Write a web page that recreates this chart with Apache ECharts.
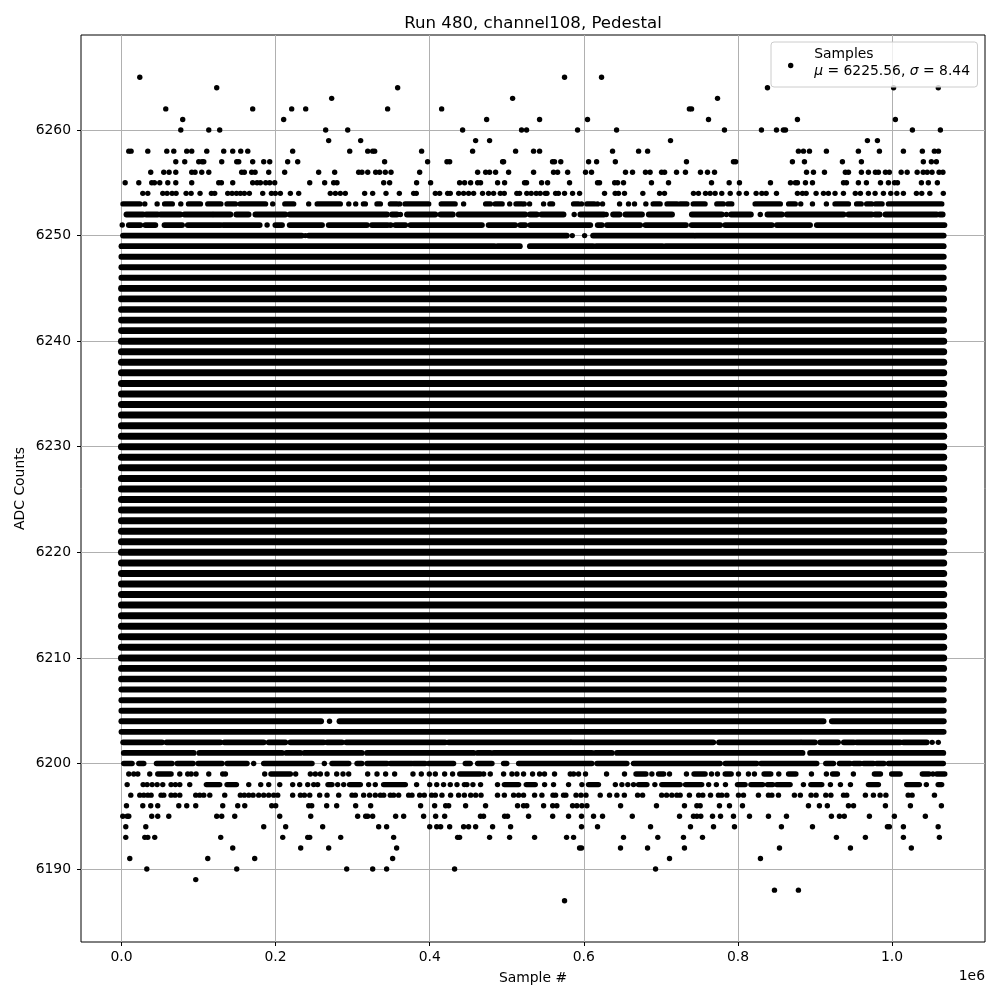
<!DOCTYPE html>
<html>
<head>
<meta charset="utf-8">
<title>Run 480, channel108, Pedestal</title>
<script src="https://cdn.jsdelivr.net/npm/echarts@6/dist/echarts.min.js"></script>
<style>
  html, body { margin: 0; padding: 0; background: #fff; }
  #chart { width: 1000px; height: 1000px; }
</style>
</head>
<body>
<div id="chart"></div>
<script>
// sample positions are in thousands of samples
// a plain number is one visible dot, a pair is a stretch of overlapping dots
const row6265 = [23.8, 575, 623];
const row6264 = [123.6, 358.4, 838.3, 1002, 1060];
const row6263 = [272.8, 507.6, 773.5];
const row6262 = [57.5, 170.3, 220.9, 239.1, 345.4, 415.5, 737, 739.8];
const row6261 = [79.5, 210.5, 473.9, 542.6, 604.8, 761.8, 877.2, 1004.3];
const row6260 = [77, 113.3, 127.5, 265, 293.6, 442.7, 519.2, 525.7, 591.9, 642.5, 782.5, 830.5, 850, 859, 861.7, 1026.4, 1062.7];
const row6259 = [268.9, 310.4, 459.6, 477.7, 712.5, 968, 981];
const row6258 = [9.5, 12.5, 34.2, 58.8, 67.9, 84.7, 91.2, 110.7, 132.7, 144.4, 154.8, 163.9, 222.2, 296.2, 319.6, 326, 328.6, 389.5, 455.7, 511.5, 534.8, 542.6, 637.3, 671.1, 682.8, 878.5, 885, 892.8, 914.8, 956.3, 983.6, 1014.7, 1039.3, 1054.9, 1060.2];
const row6257 = [70.5, 82.1, 100.3, 104.6, 106.8, 130.1, 149.6, 152.2, 170.3, 184.6, 192.4, 215.7, 228.7, 341.5, 397.3, 422.4, 425.9, 494.6, 495.9, 559.4, 562, 570.1, 606.2, 616.6, 640.9, 733.2, 794.2, 797, 870.7, 886.3, 935.6, 960.2, 1040.6, 1051, 1057.5];
const row6256 = [38, 54.9, 61.8, 70.5, 91.2, 95.5, 104.2, 113.3, 156, 159.5, 169, 173.4, 191.1, 211.8, 255.9, 276.7, 307.8, 312.1, 319.6, 329.9, 335, 342.4, 349.8, 387, 462.2, 472.6, 477.7, 485.5, 502.4, 534.8, 560.7, 566, 579, 602.2, 610, 654.1, 663.2, 680, 686, 700.9, 704.8, 720.3, 731.9, 751.4, 760.5, 769.6, 889, 898, 912.3, 939.4, 943.4, 960.2, 969.3, 978.4, 982.3, 991.4, 996.5, 1011.8, 1019.6, 1032.6, 1040.4, 1045.6, 1051.9, 1061, 1066];
const row6255 = [4.8, 22.5, 39.3, 42.8, 49.7, 60.1, 70.5, 91.2, 126.2, 129.7, 144.4, 170.3, 176, 180.3, 187.2, 192.4, 198.9, 244.3, 263.7, 275.4, 279.7, 340.3, 348, 383, 401.2, 438.8, 445.3, 453.1, 462.2, 466, 488.1, 497.2, 523.1, 525.7, 545.2, 553, 581.5, 617.8, 620.4, 640, 643.8, 651.5, 687.8, 709.9, 765.7, 788.6, 802, 842.2, 868.2, 874.6, 877.2, 887.6, 896.7, 937, 940.8, 956.3, 966.7, 985, 995.3, 1003.2, 1007, 1038.1, 1047.1, 1058.8];
const row6254 = [27.7, 34.2, 53.6, 59.2, 65.7, 70.9, 83.9, 90.4, 102, 116.7, 121, 137.9, 143.5, 149.2, 154.3, 159.5, 166, 183.3, 194.6, 199.7, 206.2, 219.2, 230, 271, 277.6, 284, 290.5, 315.6, 326, 343.3, 360.6, 379.2, 382.6, 407.3, 412.9, 423.3, 426.7, 437.6, 444, 450.5, 457, 468.6, 476.4, 482.9, 491.6, 496.8, 513.1, 516.6, 526, 531.7, 538.2, 543.4, 550, 552.2, 563.4, 567, 575, 585.4, 594.5, 626.9, 640.7, 645, 652.8, 676.6, 698.3, 704.7, 742.3, 748.8, 757.9, 763.9, 770.4, 779, 790, 801.5, 811, 823.6, 831, 836.6, 850, 877.2, 883.7, 888.5, 901.4, 911, 917.4, 926, 936.9, 952.3, 958.9, 969.3, 978, 988.8, 998.3, 1006.2, 1014.7, 1031.6, 1038.5, 1049, 1066.5];
const row6253 = [[2, 24], 30.3, 46.3, [56, 66], 77, [87, 102.5], [112, 129], [137, 148], [154, 187], 196.3, [212, 223.5], 243, [254, 284], 295, 304, [314, 316.5], [331.6, 336], [349, 357.6], 361, [368, 398.7], [415, 433], 444, [472.6, 478.7], [485, 494], 503.8, [512, 519.6], 522.7, 529.6, 547.8, [556, 559.4], [586.7, 593], 597, [604, 613.6], 617.8, 624.3, 646.4, 658, 665.8, 680.5, [690, 699], [708, 721], [725, 733.7], [742, 757.3], [772.6, 781], [787, 792], [822.3, 855], [865.8, 874.4], 881.5, 896.7, 914.8, [926, 943.4], [954, 960], [967, 973.6], [978.6, 987], [995.3, 1064.5]];
const row6252 = [[6.5, 28], [32, 47], [50.6, 76.5], [81.7, 117.6], [119.8, 141.4], [149, 165], [173.8, 212.7], [218.3, 344.6], [351, 357.6], 362, [370.5, 407.3], [414, 430], [437.6, 524], [530, 539], [545, 573.7], 587.5, [595.5, 626], 629, [638, 646.4], [654, 675.5], [684.3, 714.5], [740.2, 779], 785, [791, 816.8], 829, [838.3, 857], [863.4, 937], [943.4, 973.6], [978, 984], [991.4, 1058], [1062, 1065.7]];
const row6251 = [1, [9.5, 24.6], [31, 44], [55.8, 78.7], [86, 128.4], [131.9, 179.4], 189, [199.7, 208.4], [218.3, 260.3], [268.9, 318.6], [325, 345.4], [349, 349.5], [355.4, 368.4], [375, 467.8], [476.4, 511], [517.5, 524], [530.5, 608.4], [618, 623.4], [630, 673.2], [680, 732.6], [740, 777], [783.4, 844], [850.4, 893.6], [902.3, 1068]];
const row6250 = [[2, 234], 238.6, [243, 578], 585, 601, [612, 743], [745, 1067]];
const row6249 = [[0, 484], [488, 517], [530, 612], [616, 702], [706, 1067]];
const row6204 = [[0, 259], 270, [283, 911], [922, 1067]];
const row6202 = [[2.2, 52.7], [58.4, 128.4], [133.6, 184.6], [191, 212.7], [219.2, 262.4], [266.8, 286.2], [291.8, 420], [424.6, 582.4], [584, 768], [775.4, 881], [882.9, 900], [906.7, 930], [937.4, 950.5], [954, 1010.5], [1014.7, 1045], 1052, 1060];
const row6201 = [[3, 93.8], [101, 208.4], [214, 232.2], [237.4, 312], [318.6, 457], [462.2, 478.7], [483, 610.5], [615, 636.4], [643, 883.8], [893.6, 1066.5]];
const row6200 = [[3, 13.8], [22.5, 29], [45.4, 65.7], [72.2, 93], [99.4, 130.6], [137, 163], 171.6, [184.6, 247.3], 263.3, [273.2, 295], [305.7, 312], [318.6, 344.6], [349, 377], [379, 394], [398.7, 431], [446.2, 452.6], [462.2, 480.8], [495.9, 500], [515.4, 610.5], [617, 655.9], [664.5, 777], [783.5, 824.4], [829.8, 902.3], [914, 924], [931.7, 945.6], [950, 958.9], [963, 975.8], [980, 989.5], [995.3, 1066.5]];
const row6199 = [9.5, 16, 21.2, 36.7, [47.1, 64.4], 75.7, 86, 90.4, 96.8, 113.3, 131.4, 134.9, 185.9, [194, 219.2], 226.1, 245.1, 251.6, 258.1, 266.8, 279.3, 287.5, 294.9, 319.5, 331.6, 342.8, 354.5, 378.3, 389.1, 399.5, 407.3, 419.4, 429.7, [439, 465.6], 470, 478.6, 495.9, 506.7, 513.2, 521.8, 533.5, 542.6, 549, 562, 582.4, 586.7, 593.2, 602.2, 629.5, 652.8, [667.7, 680.6], 688.3, [697, 703.6], 711.2, 733.2, [743, 757.4], 765.7, 773.4, [783.5, 791.2], 800.7, 813.6, 821.4, [833.9, 842.6], 853, [865.7, 875.2], 895.4, 914.8, [922.8, 929.1], 949.8, [977.1, 984.9], [999.5, 1010.5], [1039.3, 1048], 1053, [1058, 1068.4]];
const row6198 = [7.4, 28.1, 33.3, 39.8, 46.3, 53.6, 64.4, 70, 75.7, 88.6, [110.2, 127.5], [137, 149.2], 165.2, 180.7, 191.1, 205.4, 222.2, 231.3, 241.7, 249.5, 254.6, [268, 273.2], 280.6, 288.4, [296, 310], 320.8, 329.4, [340.2, 368.4], 383, 400, 409.1, 418, 426.7, 435.4, 445, 448.3, 456.1, 466, 488, [496.9, 515.4], [525.3, 537], 549.1, 560.7, 580.2, 597.5, [606.1, 619], 640.9, 649.4, 657.1, 664.5, [671, 681.9], 692.2, [701.2, 725], [732, 753], 762, 772, 783.8, [799.4, 809.3], [816.8, 832.2], [838.3, 845.2], [850.4, 867.7], 885, [894.6, 908.8], 920, 933, 946, [969.3, 982.3], [1019, 1035.4], 1044.5, [1059.8, 1064.4]];
const row6197 = [12.1, 23.8, 29, 34.2, 38.5, 51.4, 54.9, 64.4, 69.6, 75.7, 96.4, 101.6, 106.8, 114.6, 134, 154.3, 159.5, 165.2, 170.8, 178.1, 184.6, 191.1, 197.6, 202.8, 222.2, 232.2, 237.4, 244.3, 257.2, 266.8, 281.9, 299.2, 303.5, 314.3, 322, 329.4, 336, 340.3, 348.9, 353.2, 359.7, 372.7, 377, 387, 393, 402.5, 407.3, 415.9, 427.1, 437.5, 445, 453.2, 459.7, 466.6, 488, 496.9, 508.9, 515.4, 521.8, 536.1, 545.6, 560, 563.4, 573.7, 576.7, 589.9, 596.3, 602.8, 621.3, 633.4, 642.9, 652.6, 669.8, 676.3, 701, 707.4, 714.2, 720.7, 725, 737, 749, 754.4, 764.4, 774.7, 779, 785.6, 800.7, 807.2, 826.6, 839.6, 844, 852.6, 873.3, 881, 894.9, 901.4, 914, 920.6, 937, 941.2, 965.4, 975.8, 984.5, 992, 1020.9, 1026, 1055];
const row6196 = [6.5, 27.7, 38, 47.1, 74.4, 84.7, 96.4, 131.4, 150.9, 160, 195, 200.2, 243, 246.9, 266.3, 279.3, 303.9, 323.4, 388.2, 406.4, 420.7, 424.6, 446.6, 472.5, 514, 521.8, 526, 547.8, 559.6, 565, 585.4, 591, 597.5, 604, 647.7, 694.3, 730.6, 746.7, 751, 776, 789, 805.9, 891.5, 905.7, 916, 943.4, 950, 991.4, 1023.8, 1064];
const row6195 = [1.7, 7.4, 9.5, 39.3, 47.1, 61.4, 123.6, 130.1, 147, 205.4, 245.6, 306.5, 316.9, 319.5, 326, 355.8, 366.2, 392.1, 407.7, 419.4, 465.9, 469.9, 497.2, 501, 528.3, 559.6, 580.2, 597, 612.6, 624.3, 662.9, 724.2, 742.3, 746.7, 751.8, 767, 777.4, 794.2, 815, 839.6, 863, 921.3, 931.7, 938, 970.6, 1003, 1043.2];
const row6194 = [5.6, 31.6, 184.6, 213.1, 261.1, 333.8, 344.1, 400, 409.1, 414.2, 425.9, 444, 450.5, 459.6, 481.6, 505, 597, 617.8, 686.6, 738.4, 768.3, 795.5, 856.4, 896.7, 994, 996.5, 1014.7, 1059.8];
const row6193 = [5.6, 30.3, 34.2, 43.2, 128.8, 209.3, 241.7, 244.3, 284.5, 353.2, 436.2, 438.8, 477.7, 503.7, 536.1, 577.6, 586.7, 651.5, 696, 729.3, 754, 927.8, 965.4, 1014.7, 1061.4];
const row6192 = [144.4, 232.6, 268.9, 357.1, 594.5, 597, 647.6, 682.7, 730.6, 853.9, 946, 1025];
const row6191 = [10.8, 112, 172.9, 351.9, 711.2, 829.2];
const row6190 = [32.9, 149.6, 292.3, 326, 344.1, 432.3, 693.1];
const row6189 = [96.4];
const row6188 = [847.4, 878.5];
const row6187 = [575];

// rows that are solid from the first sample to the last
const solidLevels = [6203, 6205, 6206, 6207, 6208, 6209, 6210, 6211, 6212, 6213, 6214, 6215, 6216, 6217, 6218, 6219, 6220, 6221, 6222, 6223, 6224, 6225, 6226, 6227, 6228, 6229, 6230, 6231, 6232, 6233, 6234, 6235, 6236, 6237, 6238, 6239, 6240, 6241, 6242, 6243, 6244, 6245, 6246, 6247, 6248];
const solidRange = [0, 1067];

const rows = [
  [6265, row6265], [6264, row6264], [6263, row6263], [6262, row6262], [6261, row6261],
  [6260, row6260], [6259, row6259], [6258, row6258], [6257, row6257], [6256, row6256],
  [6255, row6255], [6254, row6254], [6253, row6253], [6252, row6252], [6251, row6251],
  [6250, row6250], [6249, row6249], [6204, row6204], [6202, row6202], [6201, row6201],
  [6200, row6200], [6199, row6199], [6198, row6198], [6197, row6197], [6196, row6196],
  [6195, row6195], [6194, row6194], [6193, row6193], [6192, row6192], [6191, row6191],
  [6190, row6190], [6189, row6189], [6188, row6188], [6187, row6187]
];

const xTicks = [0, 200000, 400000, 600000, 800000, 1000000];
const yTicks = [6190, 6200, 6210, 6220, 6230, 6240, 6250, 6260];
const legendMean = "6225.56";
const legendSigma = "8.44";

const font = "DejaVu Sans";
const markerSize = 5.4;

// the more samples in a row the fatter it prints, so bars get thicker to the middle
function barWidth(level) {
  if (level >= 6210 && level <= 6240) return 7;
  if (level >= 6208 && level <= 6245) return 6.7;
  if (level >= 6204 && level <= 6248) return 6;
  if (level >= 6201 && level <= 6252) return 5.8;
  return markerSize;
}

// split the rows into single dots (scatter) and stretches (custom)
const dotData = [];
const runData = [];
rows.forEach(function(r) {
  r[1].forEach(function(v) {
    if (Array.isArray(v)) {
      runData.push([v[0] * 1000, r[0], v[1] * 1000]);
    } else {
      dotData.push([v * 1000, r[0]]);
    }
  });
});
solidLevels.forEach(function(l) {
  runData.push([solidRange[0] * 1000, l, solidRange[1] * 1000]);
});

const chart = echarts.init(document.getElementById("chart"), null, { renderer: "canvas" });
chart.setOption({
  animation: false,
  backgroundColor: "#fff",
  textStyle: { fontFamily: font },
  title: {
    text: "Run 480, channel108, Pedestal",
    left: 528,
    top: 10,
    textAlign: "center",
    textStyle: { fontFamily: font, fontSize: 16.6, fontWeight: "normal", color: "#000" }
  },
  grid: {
    left: 81,
    top: 35,
    width: 904,
    height: 907,
    outerBoundsMode: "none",
    show: true,
    backgroundColor: "#fff",
    borderColor: "#000",
    borderWidth: 1
  },
  legend: {
    left: 771,
    top: 42,
    padding: [3.5, 7.5, 1.5, 17],
    orient: "vertical",
    backgroundColor: "rgba(255,255,255,0.8)",
    borderColor: "#ccc",
    borderWidth: 1,
    borderRadius: 3,
    itemWidth: 37,
    itemHeight: markerSize,
    icon: "circle",
    data: ["Samples"],
    // the short last line pushes the marker down against the two text lines
    formatter: function() {
      return "Samples\n{i|μ} = " + legendMean + ", {i|σ} = " + legendSigma + "\n{s| }";
    },
    textStyle: {
      fontFamily: font,
      fontSize: 13.9,
      lineHeight: 17,
      color: "#000",
      rich: {
        i: { fontFamily: font, fontStyle: "italic", fontSize: 13.9, lineHeight: 17, color: "#000" },
        s: { fontSize: 1, lineHeight: 6 }
      }
    }
  },
  xAxis: {
    type: "value",
    min: -52500,
    max: 1120600,
    name: "Sample #",
    nameLocation: "middle",
    nameGap: 29,
    nameTextStyle: { fontFamily: font, fontSize: 13.9, color: "#000" },
    axisLine: { show: false, onZero: false },
    axisTick: { show: true, length: 4, customValues: xTicks, lineStyle: { color: "#000" } },
    axisLabel: {
      customValues: xTicks,
      fontFamily: font,
      fontSize: 13.9,
      color: "#000",
      margin: 8,
      formatter: function(v) { return (v / 1e6).toFixed(1); }
    },
    splitLine: { show: true, lineStyle: { color: "#b0b0b0", width: 1 } }
  },
  yAxis: {
    type: "value",
    min: 6183.09,
    max: 6269,
    name: "ADC Counts",
    nameLocation: "middle",
    nameGap: 54,
    nameMoveOverlap: false,
    nameTextStyle: { fontFamily: font, fontSize: 13.9, color: "#000" },
    axisLine: { show: false, onZero: false },
    axisTick: { show: true, length: 4, customValues: yTicks, lineStyle: { color: "#000" } },
    axisLabel: {
      customValues: yTicks,
      fontFamily: font,
      fontSize: 13.9,
      color: "#000",
      margin: 10,
      formatter: function(v) { return String(v); }
    },
    splitLine: { show: true, lineStyle: { color: "#b0b0b0", width: 1 } }
  },
  graphic: [
    {
      type: "text",
      right: 15,
      top: 969,
      style: { text: "1e6", fontFamily: font, fontSize: 13.9, fill: "#000" }
    }
  ],
  series: [
    {
      name: "Runs",
      type: "custom",
      silent: true,
      clip: true,
      data: runData,
      encode: { x: [0, 2], y: 1 },
      renderItem: function(params, api) {
        const a = api.coord([api.value(0), api.value(1)]);
        const b = api.coord([api.value(2), api.value(1)]);
        return {
          type: "line",
          shape: { x1: a[0], y1: a[1], x2: b[0], y2: b[1] },
          style: { stroke: "#000", lineWidth: barWidth(api.value(1)), lineCap: "round" }
        };
      }
    },
    {
      name: "Samples",
      type: "scatter",
      silent: true,
      symbol: "circle",
      symbolSize: markerSize,
      itemStyle: { color: "#000", opacity: 1 },
      progressive: 0,
      data: dotData
    }
  ]
});
</script>
</body>
</html>
